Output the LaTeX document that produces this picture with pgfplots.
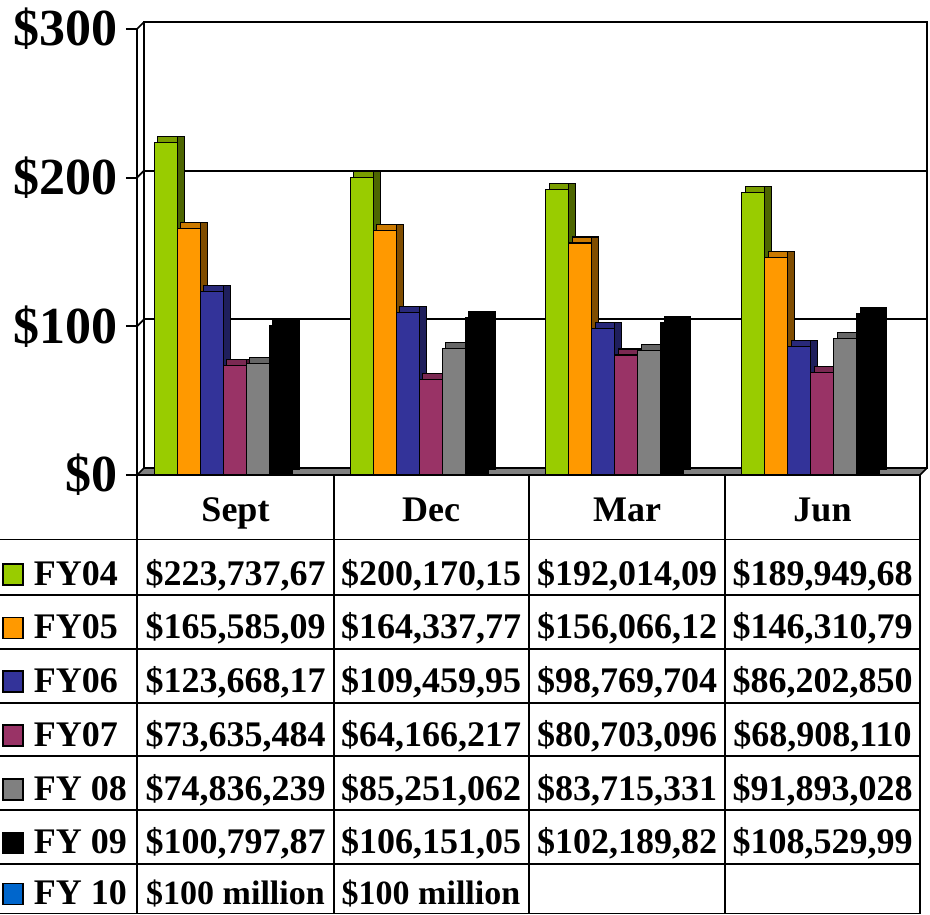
\documentclass[border=0pt]{standalone}
\usepackage{fontspec}
\setmainfont{Liberation Serif}
\usepackage{pgfplots}
\usepackage{pgfplotstable}
\pgfplotsset{compat=1.18}

\definecolor{cA}{HTML}{99CC00}\definecolor{cAt}{HTML}{7A9E00}\definecolor{cAs}{HTML}{4D6600}
\definecolor{cB}{HTML}{FF9900}\definecolor{cBt}{HTML}{CC7A00}\definecolor{cBs}{HTML}{804D00}
\definecolor{cC}{HTML}{333399}\definecolor{cCt}{HTML}{29297A}\definecolor{cCs}{HTML}{1F1F5C}
\definecolor{cD}{HTML}{993366}\definecolor{cDt}{HTML}{7A2952}\definecolor{cDs}{HTML}{4D1A33}
\definecolor{cE}{HTML}{808080}\definecolor{cEt}{HTML}{666666}\definecolor{cEs}{HTML}{404040}
\definecolor{cF}{HTML}{000000}
\definecolor{cG}{HTML}{0066CC}

% values in millions of dollars
\pgfplotstableread{
x a b c d e f
0 223.738 165.585 123.668 73.635 74.836 100.798
1 200.170 164.338 109.460 64.166 85.251 106.151
2 192.014 156.066 98.770 80.703 83.715 102.190
3 189.950 146.311 86.203 68.908 91.893 108.530
}\data

\newcommand{\tf}{\fontsize{36}{36}\selectfont\bfseries}

\begin{document}
\begin{tikzpicture}
\useasboundingbox (0pt,0pt) rectangle (930pt,-915pt);
% back wall with gridlines
\begin{axis}[at={(144pt,-468pt)}, anchor=south west, scale only axis,
  width=783pt, height=446pt, xmin=-0.5, xmax=3.5, ymin=0, ymax=300,
  xtick=\empty, ytick={100,200}, yticklabels={}, major tick length=0pt,
  ymajorgrids, grid style={black,line width=1.7pt},
  axis line style={black,line width=1.7pt}]
\end{axis}
% floor and side wall
\filldraw[fill=cE, draw=black, line width=1.7pt, line join=round]
  (137pt,-475pt) -- (144pt,-468pt) -- (927pt,-468pt) -- (920pt,-475pt) -- cycle;
\draw[line width=1.7pt] (137pt,-326.3pt) -- (144pt,-319.3pt);
\draw[line width=1.7pt] (137pt,-177.7pt) -- (144pt,-170.7pt);
\draw[line width=1.7pt] (137pt,-29pt) -- (144pt,-22pt);

% front axis with bars
\begin{axis}[at={(137pt,-475pt)}, anchor=south west, scale only axis,
  width=783pt, height=446pt, xmin=-0.5, xmax=3.5, ymin=0, ymax=300,
  axis x line=none, axis y line*=left,
  ytick={0,100,200,300}, yticklabels={\$0,\$100,\$200,\$300},
  tick align=outside, major tick length=11pt,
  tick style={black,line width=1.7pt},
  axis line style={black,line width=1.7pt},
  yticklabel style={font=\fontsize{52}{52}\selectfont\bfseries, inner sep=0pt, xshift=-8pt},
  ybar, bar width=23pt, clip=false,
  top/.style={draw=black, line width=1.2pt, xshift=3.5pt, yshift=6pt},
  side/.style={draw=black, line width=1.2pt, bar width=7pt, yshift=6pt}]
% depth faces: top then side for each series
\addplot[top, fill=cAt, bar shift=-69pt] table[x=x,y=a]{\data};
\addplot[side, fill=cAs, bar shift=-54pt] table[x=x,y=a]{\data};
\addplot[top, fill=cBt, bar shift=-46pt] table[x=x,y=b]{\data};
\addplot[side, fill=cBs, bar shift=-31pt] table[x=x,y=b]{\data};
\addplot[top, fill=cCt, bar shift=-23pt] table[x=x,y=c]{\data};
\addplot[side, fill=cCs, bar shift=-8pt] table[x=x,y=c]{\data};
\addplot[top, fill=cDt, bar shift=0pt] table[x=x,y=d]{\data};
\addplot[side, fill=cDs, bar shift=15pt] table[x=x,y=d]{\data};
\addplot[top, fill=cEt, bar shift=23pt] table[x=x,y=e]{\data};
\addplot[side, fill=cEs, bar shift=38pt] table[x=x,y=e]{\data};
\addplot[top, fill=cF, bar shift=46pt] table[x=x,y=f]{\data};
\addplot[side, fill=cF, bar shift=61pt] table[x=x,y=f]{\data};
% front faces
\addplot[fill=cA, draw=black, line width=1.2pt, bar shift=-69pt] table[x=x,y=a]{\data};
\addplot[fill=cB, draw=black, line width=1.2pt, bar shift=-46pt] table[x=x,y=b]{\data};
\addplot[fill=cC, draw=black, line width=1.2pt, bar shift=-23pt] table[x=x,y=c]{\data};
\addplot[fill=cD, draw=black, line width=1.2pt, bar shift=0pt] table[x=x,y=d]{\data};
\addplot[fill=cE, draw=black, line width=1.2pt, bar shift=23pt] table[x=x,y=e]{\data};
\addplot[fill=cF, draw=black, line width=1.2pt, bar shift=46pt] table[x=x,y=f]{\data};
\end{axis}

% data table
\begin{scope}[x=1pt, y=-1pt, line width=1.7pt]
  \foreach \yy in {539.5,595,649,703,756,810,864,913.5} \draw (0,\yy) -- (920,\yy);
  \foreach \xx in {137,334,529,725,920} \draw (\xx,475) -- (\xx,914);
  \node[font=\tf, anchor=base] at (235.5,521) {Sept};
  \node[font=\tf, anchor=base] at (431,521) {Dec};
  \node[font=\tf, anchor=base] at (627,521) {Mar};
  \node[font=\tf, anchor=base] at (822.5,521) {Jun};
  % row: baseline, colour, label, values
  \newcommand{\trow}[7]{%
    \filldraw[fill=#2, draw=black, line width=1.4pt] (3,#1-21) rectangle (23,#1);
    \node[font=\tf, anchor=base west, inner sep=0pt] at (33,#1) {#3};
    \node[font=\tf, anchor=base] at (235.5,#1) {#4};
    \node[font=\tf, anchor=base] at (431,#1) {#5};
    \node[font=\tf, anchor=base] at (627,#1) {#6};
    \node[font=\tf, anchor=base] at (822.5,#1) {#7};}
  \trow{585}{cA}{FY04}{\$223,737,67}{\$200,170,15}{\$192,014,09}{\$189,949,68}
  \trow{638.5}{cB}{FY05}{\$165,585,09}{\$164,337,77}{\$156,066,12}{\$146,310,79}
  \trow{692}{cC}{FY06}{\$123,668,17}{\$109,459,95}{\$98,769,704}{\$86,202,850}
  \trow{746}{cD}{FY07}{\$73,635,484}{\$64,166,217}{\$80,703,096}{\$68,908,110}
  \trow{800}{cE}{FY 08}{\$74,836,239}{\$85,251,062}{\$83,715,331}{\$91,893,028}
  \trow{853.5}{cF}{FY 09}{\$100,797,87}{\$106,151,05}{\$102,189,82}{\$108,529,99}
  \trow{904.5}{cG}{FY 10}{\fontsize{34}{34}\selectfont\$100 million}{\fontsize{34}{34}\selectfont\$100 million}{}{}
\end{scope}
\end{tikzpicture}
\end{document}
